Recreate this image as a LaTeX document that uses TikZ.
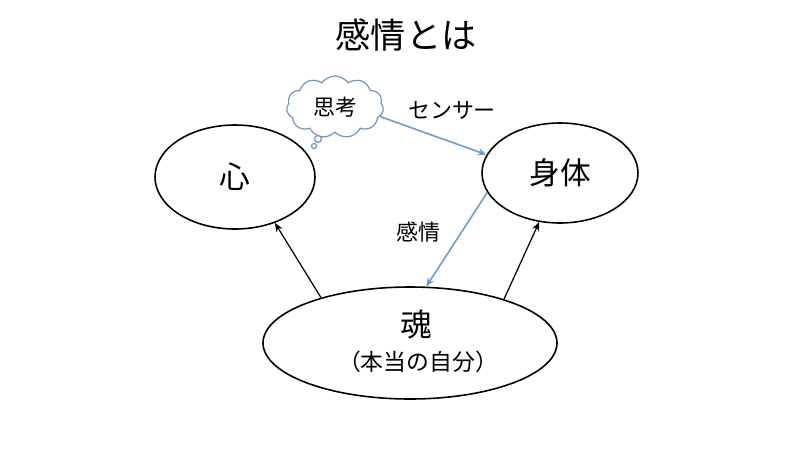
\documentclass[tikz,border=0pt]{standalone}
\usepackage{fontspec}
\newfontfamily\jp{Noto Sans CJK JP}
\usetikzlibrary{shapes.geometric,shapes.symbols,arrows.meta}
\definecolor{linkblue}{RGB}{110,155,200}
\definecolor{cloudline}{RGB}{120,150,185}
\tikzset{
  oval/.style={ellipse, draw, line width=0.9pt, inner sep=0pt, fill=white},
  thought/.style={cloud, cloud puffs=11, cloud puff arc=110, aspect=1.6, draw=cloudline, line width=0.7pt, fill=white, inner sep=0pt},
  link/.style={-{Stealth[length=5pt,width=4pt]}, line width=0.7pt},
  feel/.style={-{Stealth[length=5pt,width=4pt]}, line width=0.9pt, linkblue}
}
\begin{document}
\begin{tikzpicture}[x=0.02cm, y=-0.02cm, font=\jp]
\useasboundingbox (0,0) rectangle (791,457);
% title
\node[font=\jp\fontsize{20}{24}\selectfont] (title) at (406,35) {感情とは};
% 心 and 身体
\node[oval, minimum width=160*0.02cm, minimum height=104*0.02cm, font=\jp\fontsize{17.5}{20}\selectfont] (mind) at (235,177) {心};
\node[oval, minimum width=156*0.02cm, minimum height=100*0.02cm, font=\jp\fontsize{17.5}{20}\selectfont] (body) at (560,173) {身体};
% 魂
\node[oval, minimum width=294*0.02cm, minimum height=112*0.02cm] (soul) at (410,343) {};
\node[font=\jp\fontsize{18}{20}\selectfont] (soultext) at (416,325) {魂};
\node[font=\jp\fontsize{13}{15}\selectfont] (soulsub) at (418,362) {（本当の自分）};
% thought bubble
\node[thought, minimum width=97*0.02cm, minimum height=62*0.02cm, font=\jp\fontsize{12.5}{14}\selectfont] (think) at (335,107) {思考};
\draw[cloudline, line width=0.7pt, fill=white] (318,139) circle (3.5);
\draw[cloudline, line width=0.7pt, fill=white] (314,146) circle (2.5);
% connectors
\draw[feel] (think.-12) -- (body.166);
\node[font=\jp\fontsize{12.5}{14}\selectfont] (sensor) at (452,110) {センサー};
\draw[feel] (body.195) -- (soul.74);
\node[font=\jp\fontsize{12.5}{14}\selectfont] (emotion) at (418,232) {感情};
\draw[link] (soul.153) -- (mind.-49);
\draw[link] (soul.25) -- (body.-113);
\end{tikzpicture}
\end{document}
